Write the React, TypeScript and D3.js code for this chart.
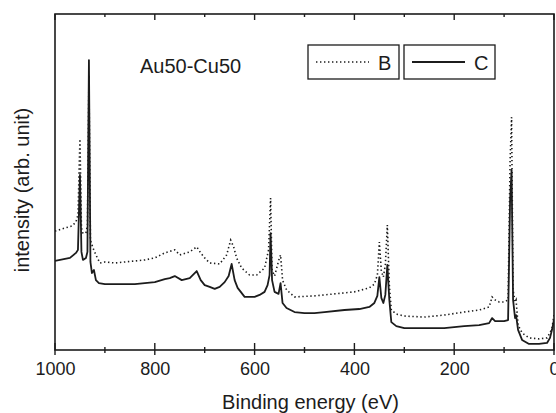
import React, { useEffect, useRef } from "react";
import * as d3 from "d3";

// binding energy (eV) and intensity (arb. unit, 0-100)
const energyC = [
  1000, 980, 970, 958, 954, 950, 947, 944, 938, 935, 932, 929, 926, 922, 918, 912, 900, 880, 860, 840,
  820, 800, 780, 770, 760, 746, 730, 722, 716, 708, 700, 690, 680, 670, 660, 652, 646, 640, 634, 620,
  600, 590, 580, 574, 570, 568, 565, 560, 552, 548, 544, 536, 520, 500, 480, 460, 420, 390, 370, 360,
  354, 350, 346, 342, 338, 334, 330, 326, 316, 300, 260, 220, 180, 150, 130, 124, 118, 100, 92, 88,
  85, 82, 78, 76, 72, 64, 50, 30, 14, 8, 4, 0,
];
const intensityC = [
  26.5, 27.1, 27.4, 28.9, 29.8, 52.1, 29.2, 26.8, 27.4, 29.2, 86.3, 26.2, 22.9, 23.8, 20.8, 19.9, 19.6, 19.6, 19.6, 19.6,
  19.9, 20.2, 21.1, 21.4, 22.0, 20.8, 21.4, 22.6, 23.5, 20.8, 19.3, 18.8, 18.2, 18.8, 20.2, 22.0, 25.6, 20.8, 18.5, 15.8,
  15.8, 16.4, 17.3, 19.3, 22.3, 34.8, 20.8, 17.3, 16.7, 19.9, 14.0, 12.5, 11.3, 11.0, 11.0, 11.3, 11.9, 12.2, 12.8, 14.0,
  16.1, 21.7, 15.5, 14.0, 16.4, 25.3, 14.9, 8.3, 7.1, 6.5, 6.5, 6.5, 7.1, 7.4, 8.0, 9.5, 8.6, 8.6, 8.9, 44.6,
  53.6, 14.9, 9.5, 10.4, 6.0, 3.0, 1.8, 1.8, 2.1, 3.6, 6.0, 9.0,
];

const energyB = [
  1000, 980, 966, 958, 954, 950, 947, 944, 938, 935, 932, 929, 924, 918, 910, 900, 880, 860, 840, 820,
  800, 780, 760, 750, 730, 716, 708, 700, 690, 670, 656, 648, 642, 636, 626, 610, 596, 580, 572, 568,
  565, 560, 552, 548, 544, 536, 520, 480, 440, 400, 370, 360, 354, 350, 346, 342, 338, 334, 330, 326,
  316, 300, 260, 220, 180, 150, 130, 124, 118, 110, 100, 92, 88, 85, 82, 78, 76, 72, 64, 50,
  30, 14, 8, 4, 0,
];
const intensityB = [
  35.4, 36.3, 36.9, 38.1, 40.2, 62.8, 36.3, 34.8, 34.8, 37.2, 81.8, 32.7, 30.4, 28.3, 25.9, 26.2, 25.9, 26.2, 26.5, 26.8,
  27.4, 28.9, 29.8, 28.3, 29.2, 30.7, 28.9, 27.4, 25.9, 25.6, 28.3, 32.7, 30.7, 27.4, 24.4, 22.3, 22.3, 24.4, 29.8, 45.2,
  23.8, 22.0, 26.5, 28.3, 20.8, 17.9, 15.8, 16.1, 16.7, 17.3, 18.5, 19.6, 22.3, 32.1, 23.5, 21.7, 25.3, 37.2, 19.3, 11.9,
  10.7, 10.1, 9.8, 10.4, 11.3, 11.9, 12.8, 15.8, 14.9, 14.3, 14.3, 14.9, 56.5, 69.3, 17.9, 14.3, 14.9, 7.4, 5.1, 3.6,
  3.3, 3.6, 5.1, 6.5, 10.4,
];

const majorTicks = [1000, 800, 600, 400, 200, 0];
const minorTicks = [900, 700, 500, 300, 100];

const W = 556;
const H = 413;
const INK = "#1c1c1c";
const FONT = "'Liberation Sans', Arial, sans-serif";

const App = () => {
  const ref = useRef<SVGSVGElement>(null);

  useEffect(() => {
    const svg = d3.select(ref.current);
    svg.selectAll("*").remove();

    const left = 55, right = 554, top = 14, bottom = 350;

    const x = d3.scaleLinear().domain([1000, 0]).range([left, right]);
    const y = d3.scaleLinear().domain([0, 100]).range([bottom, top]);

    const clip = svg.append("clipPath").attr("id", "plotclip");
    clip.append("rect").attr("x", left).attr("y", top).attr("width", right - left).attr("height", bottom - top);

    const line = d3
      .line<[number, number]>()
      .x((d) => x(d[0]))
      .y((d) => y(d[1]));

    const plot = svg.append("g").attr("clip-path", "url(#plotclip)");

    // curve B (dotted)
    plot
      .append("path")
      .datum(energyB.map((e, i) => [e, intensityB[i]] as [number, number]))
      .attr("fill", "none")
      .attr("stroke", INK)
      .attr("stroke-width", 1.6)
      .attr("stroke-dasharray", "1.4,2.6")
      .attr("d", line);

    // curve C (solid)
    plot
      .append("path")
      .datum(energyC.map((e, i) => [e, intensityC[i]] as [number, number]))
      .attr("fill", "none")
      .attr("stroke", INK)
      .attr("stroke-width", 1.8)
      .attr("stroke-linejoin", "round")
      .attr("d", line);

    // frame
    svg
      .append("rect")
      .attr("x", left)
      .attr("y", top)
      .attr("width", right - left)
      .attr("height", bottom - top)
      .attr("fill", "none")
      .attr("stroke", INK)
      .attr("stroke-width", 1.6);

    // bottom ticks cross the axis, top ticks point inward
    const bottomAxis = d3.axisBottom(x).tickValues(majorTicks).tickSize(0).tickFormat(d3.format("d"));
    const ax = svg.append("g").attr("transform", `translate(0,${bottom})`).call(bottomAxis);
    ax.select(".domain").remove();
    ax.selectAll("text")
      .attr("dy", null)
      .attr("y", 25)
      .attr("fill", INK)
      .style("font-family", FONT)
      .style("font-size", "18px");

    const ticks = svg.append("g").attr("stroke", INK).attr("stroke-width", 1.4);
    majorTicks.forEach((t) => {
      ticks.append("line").attr("x1", x(t)).attr("x2", x(t)).attr("y1", bottom - 7).attr("y2", bottom + 5);
      ticks.append("line").attr("x1", x(t)).attr("x2", x(t)).attr("y1", top).attr("y2", top + 6);
    });
    minorTicks.forEach((t) => {
      ticks.append("line").attr("x1", x(t)).attr("x2", x(t)).attr("y1", bottom - 3).attr("y2", bottom + 3);
      ticks.append("line").attr("x1", x(t)).attr("x2", x(t)).attr("y1", top).attr("y2", top + 3);
    });

    // axis labels
    svg
      .append("text")
      .attr("x", (left + right) / 2 + 6)
      .attr("y", 409)
      .attr("text-anchor", "middle")
      .attr("fill", INK)
      .style("font-family", FONT)
      .style("font-size", "20px")
      .text("Binding energy (eV)");

    svg
      .append("text")
      .attr("transform", `translate(29,190) rotate(-90)`)
      .attr("text-anchor", "middle")
      .attr("fill", INK)
      .style("font-family", FONT)
      .style("font-size", "20px")
      .text("intensity (arb. unit)");

    // title
    svg
      .append("text")
      .attr("x", 140)
      .attr("y", 73)
      .attr("fill", INK)
      .style("font-family", FONT)
      .style("font-size", "20px")
      .text("Au50-Cu50");

    // legend
    const legend = [
      { name: "B", dash: "1.4,2.6", x0: 308 },
      { name: "C", dash: null, x0: 404 },
    ];
    legend.forEach((l) => {
      const g = svg.append("g");
      g.append("rect")
        .attr("x", l.x0)
        .attr("y", 45)
        .attr("width", 91)
        .attr("height", 34)
        .attr("fill", "white")
        .attr("stroke", INK)
        .attr("stroke-width", 1.3);
      g.append("line")
        .attr("x1", l.x0 + 8)
        .attr("x2", l.x0 + 61)
        .attr("y1", 62)
        .attr("y2", 62)
        .attr("stroke", INK)
        .attr("stroke-width", l.dash ? 1.6 : 1.8)
        .attr("stroke-dasharray", l.dash);
      g.append("text")
        .attr("x", l.x0 + 70)
        .attr("y", 70)
        .attr("fill", INK)
        .style("font-family", FONT)
        .style("font-size", "20px")
        .text(l.name);
    });
  }, []);

  return (
    <div style={{ position: "fixed", left: 0, top: 0 }}>
      <svg ref={ref} width={W} height={H} style={{ display: "block", background: "white" }} />
    </div>
  );
};

export default App;
